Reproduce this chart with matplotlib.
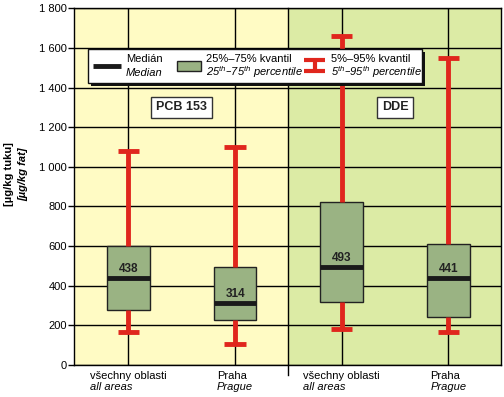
import matplotlib
matplotlib.use("Agg")
import matplotlib.pyplot as plt
from matplotlib.patches import Rectangle
from matplotlib.lines import Line2D
from matplotlib.ticker import FuncFormatter, MultipleLocator
from matplotlib.offsetbox import TextArea, VPacker, AnnotationBbox

plt.rcParams['font.family'] = ['Liberation Sans', 'DejaVu Sans']

# Data: concentrations in µg/kg fat
groups_cz = ["všechny oblasti", "Praha", "všechny oblasti", "Praha"]
groups_en = ["all areas", "Prague", "all areas", "Prague"]
p05 = [168, 106, 183, 168]
q25 = [277, 227, 316, 240]
median = [438, 314, 493, 441]
q75 = [603, 496, 824, 612]
p95 = [1081, 1101, 1661, 1548]
panels = ["PCB 153", "DDE"]

YELLOW = "#FFFBC4"
GREEN = "#DCEBA5"
BOXC = "#9AB383"
RED = "#E0261D"

fig = plt.figure(figsize=(5.04, 3.97), dpi=100)
W, H = 504, 397
ax = fig.add_axes([74 / W, 1 - 365 / H, (500.7 - 74) / W, (365 - 8.3) / H])

pos = list(range(len(median)))
ax.set_xlim(-0.51, 3.49)
ax.set_ylim(0, 1800)

ax.axvspan(-0.51, 1.5, color=YELLOW, zorder=0, lw=0)
ax.axvspan(1.5, 3.49, color=GREEN, zorder=0, lw=0)

ax.set_axisbelow(True)
ax.yaxis.set_major_locator(MultipleLocator(200))
ax.set_xticks(pos)
ax.set_xticklabels([])
ax.grid(True, color="black", lw=1)
ax.tick_params(axis='x', length=0)
ax.tick_params(axis='y', length=4, width=1, labelsize=8, pad=1.2)
ax.yaxis.set_major_formatter(FuncFormatter(lambda v, p: f"{int(v):,}".replace(",", " ")))
for s in ax.spines.values():
    s.set_color("black")
    s.set_linewidth(1)

# panel divider, running slightly below the axis
ax.axvline(1.5, ymin=-0.028, ymax=1, color="black", lw=1, clip_on=False, zorder=1)

stats = [dict(whislo=lo, q1=a, med=m, q3=b, whishi=hi)
         for lo, a, m, b, hi in zip(p05, q25, median, q75, p95)]
ax.bxp(stats, positions=pos, widths=0.4, capwidths=0.2, patch_artist=True,
       showfliers=False, manage_ticks=False,
       boxprops=dict(facecolor=BOXC, edgecolor="#222222", lw=1),
       whiskerprops=dict(color=RED, lw=3.5, solid_capstyle='butt'),
       capprops=dict(color=RED, lw=3.5, solid_capstyle='butt'),
       medianprops=dict(color="#1a1a1a", lw=3.5, solid_capstyle='butt'),
       zorder=3)

for x, m in zip(pos, median):
    ax.annotate(str(m), (x, m), xytext=(0, 6.5), textcoords='offset points',
                ha='center', va='center', fontsize=8.5, fontweight='bold',
                color="#222222", zorder=5)

# panel titles
for x, name in zip([0.5, 2.5], panels):
    ax.text(x, 1300, name, ha='center', va='center', fontsize=9, fontweight='bold',
            color="#222222", zorder=5,
            bbox=dict(boxstyle='square,pad=0.38', fc='white', ec='#333333', lw=1))

# category labels
for x, cz, en in zip(pos, groups_cz, groups_en):
    box = VPacker(children=[TextArea(cz, textprops=dict(fontsize=8)),
                            TextArea(en, textprops=dict(fontsize=8, style='italic'))],
                  align='left', pad=0, sep=1)
    ab = AnnotationBbox(box, (x, 0), xybox=(0, -4), boxcoords='offset points',
                        box_alignment=(0.5, 1), frameon=False, annotation_clip=False)
    ax.add_artist(ab)

# y label
fig.text(9 / W, 1 - 174 / H, "[µg/kg tuku]", rotation=90, ha='center', va='center',
         fontsize=8, fontweight='bold')
fig.text(23 / W, 1 - 174 / H, "[µg/kg fat]", rotation=90, ha='center', va='center',
         fontsize=8, fontweight='bold', style='italic')

# legend panel drawn in figure pixels
def fx(px):
    return px / W

def fy(py):
    return 1 - py / H

lx0, lx1, ly0, ly1 = 87.7, 421.7, 49.3, 82.7
fig.patches.append(Rectangle((fx(lx0 + 3), fy(ly1 + 3)), fx(lx1 - lx0), (ly1 - ly0) / H,
                             transform=fig.transFigure, fc='#111111', ec='none', zorder=6))
fig.patches.append(Rectangle((fx(lx0), fy(ly1)), fx(lx1 - lx0), (ly1 - ly0) / H,
                             transform=fig.transFigure, fc='white', ec='#111111', lw=1, zorder=7))
fig.lines.append(Line2D([fx(92.7), fx(120.7)], [fy(66), fy(66)], transform=fig.transFigure,
                        color="#1a1a1a", lw=3.5, solid_capstyle='butt', zorder=8))
fig.patches.append(Rectangle((fx(177.3), fy(70.7)), fx(23.4), 10 / H, transform=fig.transFigure,
                             fc=BOXC, ec='#222222', lw=1, zorder=8))
fig.lines.append(Line2D([fx(304.3), fx(325)], [fy(60), fy(60)], transform=fig.transFigure,
                        color=RED, lw=3, solid_capstyle='butt', zorder=8))
fig.lines.append(Line2D([fx(304.3), fx(325)], [fy(70.5), fy(70.5)], transform=fig.transFigure,
                        color=RED, lw=3, solid_capstyle='butt', zorder=8))
fig.lines.append(Line2D([fx(314.6), fx(314.6)], [fy(60), fy(70.5)], transform=fig.transFigure,
                        color=RED, lw=3, solid_capstyle='butt', zorder=8))

legend_entries = [
    (126, "Medián", "Median"),
    (206, "25%–75% kvantil", r"25$^{\mathregular{th}}$–75$^{\mathregular{th}}$ percentile"),
    (331, "5%–95% kvantil", r"5$^{\mathregular{th}}$–95$^{\mathregular{th}}$ percentile"),
]
for px, l1, l2 in legend_entries:
    fig.text(fx(px), fy(59.5), l1, ha='left', va='center', fontsize=8, zorder=9)
    fig.text(fx(px), fy(72.5), l2, ha='left', va='center', fontsize=8, style='italic', zorder=9)

fig.savefig("out.png", dpi=100)
